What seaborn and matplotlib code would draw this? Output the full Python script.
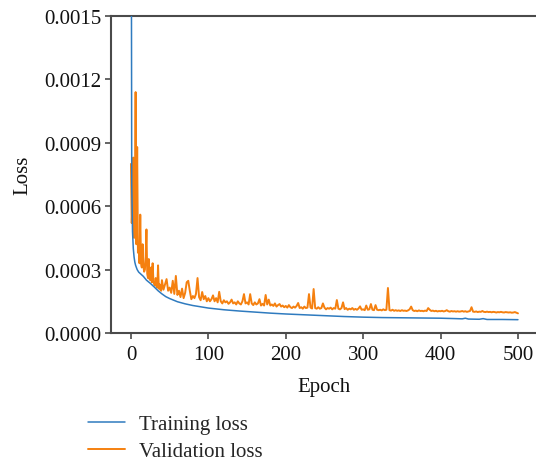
import numpy as np
import pandas as pd
import seaborn as sns
import matplotlib
matplotlib.use("Agg")
import matplotlib.pyplot as plt

# ---- data (loss values in units of 1e-6) ----
train_epochs = [0, 1, 2, 3, 4, 5, 6, 8, 10, 13, 16, 20, 25, 30, 35, 40, 45, 50, 60, 70, 80,
                90, 100, 120, 140, 160, 180, 200, 225, 250, 275, 300, 325, 350, 375, 400,
                420, 428, 432, 436, 450, 455, 460, 480, 500]
train_loss_u = [3000, 700, 480, 400, 360, 335, 320, 300, 288, 278, 268, 250, 235, 218, 200, 185,
                172, 163, 148, 138, 130, 124, 118, 110, 104, 99, 94, 90, 86, 82, 78, 75, 73, 72,
                71, 70, 68, 67, 70, 66, 65, 68, 64, 64, 63]

val_epochs_early = list(range(0, 41))
val_loss_early_u = [800, 520, 620, 830, 450, 600, 1140, 420, 880, 380, 400, 330, 560, 330, 310,
                    420, 320, 290, 300, 360, 490, 280, 260, 350, 255, 250, 310, 240, 330, 245,
                    230, 225, 260, 220, 215, 320, 210, 230, 205, 200, 250]
val_epochs_late = list(range(42, 501, 2))
val_loss_late_u = [
    205, 230, 255, 200, 215, 190, 247, 185, 270, 180,
    200, 170, 210, 165, 190, 240, 247, 200, 160, 175,
    165, 185, 260, 170, 155, 194, 160, 175, 150, 165,
    150, 160, 178, 150, 165, 145, 195, 150, 140, 155,
    145, 150, 138, 145, 158, 140, 145, 135, 150, 140,
    135, 150, 184, 140, 145, 135, 184, 140, 132, 145,
    135, 140, 160, 130, 138, 130, 180, 135, 158, 130,
    135, 128, 140, 125, 132, 137, 125, 130, 122, 128,
    120, 132, 122, 118, 125, 120, 128, 142, 118, 122,
    115, 125, 118, 120, 184, 120, 116, 208, 118, 115,
    122, 115, 118, 140, 120, 112, 118, 115, 120, 112,
    118, 115, 156, 115, 112, 118, 145, 113, 118, 110,
    115, 112, 118, 110, 114, 110, 116, 126, 110, 112,
    108, 130, 110, 112, 137, 110, 108, 132, 110, 108,
    110, 107, 112, 108, 110, 213, 108, 106, 110, 105,
    108, 105, 107, 104, 108, 105, 106, 104, 107, 112,
    125, 108, 104, 106, 103, 107, 104, 105, 103, 106,
    104, 118, 110, 104, 106, 103, 105, 102, 104, 103,
    105, 102, 104, 108, 103, 101, 104, 102, 103, 101,
    103, 101, 102, 104, 101, 103, 100, 102, 104, 122,
    101, 100, 102, 99, 101, 100, 104, 100, 99, 101,
    99, 100, 98, 100, 99, 97, 99, 98, 100, 98,
    97, 99, 98, 97, 98, 96, 97, 99, 96, 93]

x_ticks = [0, 100, 200, 300, 400, 500]
y_ticks = [0.0, 0.0003, 0.0006, 0.0009, 0.0012, 0.0015]
y_tick_labels = ["0.0000", "0.0003", "0.0006", "0.0009", "0.0012", "0.0015"]
series_names = ["Training loss", "Validation loss"]

scale = 1e-6
train_df = pd.DataFrame({"Epoch": train_epochs,
                         "Loss": np.array(train_loss_u) * scale})
val_df = pd.DataFrame({"Epoch": val_epochs_early + val_epochs_late,
                       "Loss": np.array(val_loss_early_u + val_loss_late_u) * scale})

sns.set_style("ticks")
plt.rcParams["font.family"] = ["Liberation Serif", "DejaVu Serif"]
FS = 15
plt.rcParams["font.size"] = FS

fig = plt.figure(figsize=(5.36, 4.64), dpi=100)
ax = fig.add_axes([111 / 536, 1 - 334 / 464, 1 - 111 / 536, (334 - 17) / 464])

blue = "#2f7bbf"
orange = "#f5800f"
sns.lineplot(data=train_df, x="Epoch", y="Loss", ax=ax, color=blue, lw=1.1,
             label=series_names[0], zorder=3)
sns.lineplot(data=val_df, x="Epoch", y="Loss", ax=ax, color=orange, lw=1.4,
             label=series_names[1], zorder=2)

ax.set_xlim(-25.8, 523.3)
ax.set_ylim(0, 0.0015)
ax.set_xticks(x_ticks)
ax.set_yticks(y_ticks)
ax.set_yticklabels(y_tick_labels)
ax.tick_params(axis="both", labelsize=FS, length=4, width=1.2, color="#4a4a4a",
               labelcolor="#111111", pad=3)
ax.tick_params(axis="x", pad=5)
for side in ["left", "bottom", "top"]:
    ax.spines[side].set_color("#4a4a4a")
    ax.spines[side].set_linewidth(1.5)
ax.spines["right"].set_visible(False)
ax.set_xlabel("Epoch", fontsize=FS, labelpad=9, color="#111111")
ax.set_ylabel("Loss", fontsize=FS, labelpad=8.6, color="#111111")

handles, labels = ax.get_legend_handles_labels()
ax.get_legend().remove()
fig.legend(handles, labels, loc="upper left", bbox_to_anchor=(0.149, 0.1216),
           frameon=False, fontsize=FS, handlelength=1.75, handletextpad=0.67,
           labelspacing=0.33, borderaxespad=0)

fig.savefig("out.png", dpi=100)
